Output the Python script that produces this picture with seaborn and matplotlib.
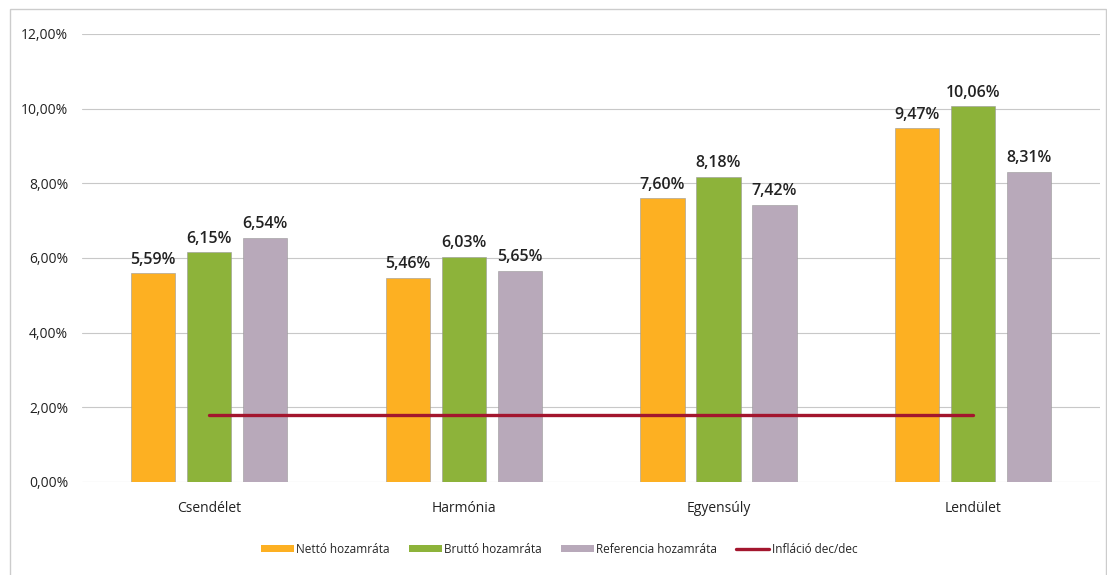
import pandas as pd
import numpy as np
import seaborn as sns
import matplotlib.pyplot as plt
from matplotlib.patches import Rectangle, Patch
from matplotlib.lines import Line2D

# adatok
alapok = ['Csendélet', 'Harmónia', 'Egyensúly', 'Lendület']
netto = [5.59, 5.46, 7.60, 9.47]
brutto = [6.15, 6.03, 8.18, 10.06]
referencia = [6.54, 5.65, 7.42, 8.31]
inflacio = [1.8, 1.8, 1.8, 1.8]
sorozatok = ['Nettó hozamráta', 'Bruttó hozamráta', 'Referencia hozamráta']
szinek = ['#FDB022', '#8DB33A', '#B8A9BA']

df = pd.DataFrame({
    'Alap': alapok * 3,
    'Sorozat': [s for s in sorozatok for _ in alapok],
    'Hozam': netto + brutto + referencia,
})

sns.set_theme(style="white")
plt.rcParams['font.family'] = ['Open Sans', 'DejaVu Sans']

fig = plt.figure(figsize=(11.07, 5.75), dpi=100)
ax = fig.add_axes([0.074, 0.162, 0.92, 0.779])

sns.barplot(data=df, x='Alap', y='Hozam', hue='Sorozat', palette=szinek,
            width=0.66, gap=0.21, ax=ax, legend=False, saturation=1,
            edgecolor='#999999', linewidth=0.4)

for cont in ax.containers:
    labels = [f"{v:.2f}%".replace('.', ',') for v in cont.datavalues]
    ax.bar_label(cont, labels=labels, padding=4, fontsize=11.5,
                 fontweight='semibold', color='#222222')

ax.plot(range(len(alapok)), inflacio, color='#A3162E', linewidth=2.4, zorder=5)

ax.set_ylim(0, 12)
ax.set_yticks(np.arange(0, 12.1, 2))
ax.set_yticklabels([f"{t:.2f}%".replace('.', ',') for t in np.arange(0, 12.1, 2)])
ax.set_xlim(-0.5, 3.5)
ax.yaxis.grid(True, color='#C8C8C8', linewidth=0.8)
ax.set_axisbelow(True)
for s in ax.spines.values():
    s.set_visible(False)
ax.tick_params(axis='both', labelsize=10, length=0, colors='#222222')
ax.tick_params(axis='x', pad=14)
ax.tick_params(axis='y', pad=10)
ax.set_xlabel('')
ax.set_ylabel('')

# jelmagyarázat
kezelok = [Patch(facecolor=c, edgecolor='none') for c in szinek]
kezelok.append(Line2D([0], [0], color='#A3162E', linewidth=2.4))
fig.legend(kezelok, sorozatok + ['Infláció dec/dec'], loc='center', bbox_to_anchor=(0.505, 0.045),
           ncol=4, frameon=False, fontsize=8.5, handlelength=2.8, handleheight=0.5,
           columnspacing=1.6, handletextpad=0.2)

fig.patches.append(Rectangle((0.009, -0.01), 0.99, 0.995, transform=fig.transFigure,
                             fill=False, edgecolor='#CCCCCC', linewidth=1))

plt.savefig('out.png', dpi=100)
